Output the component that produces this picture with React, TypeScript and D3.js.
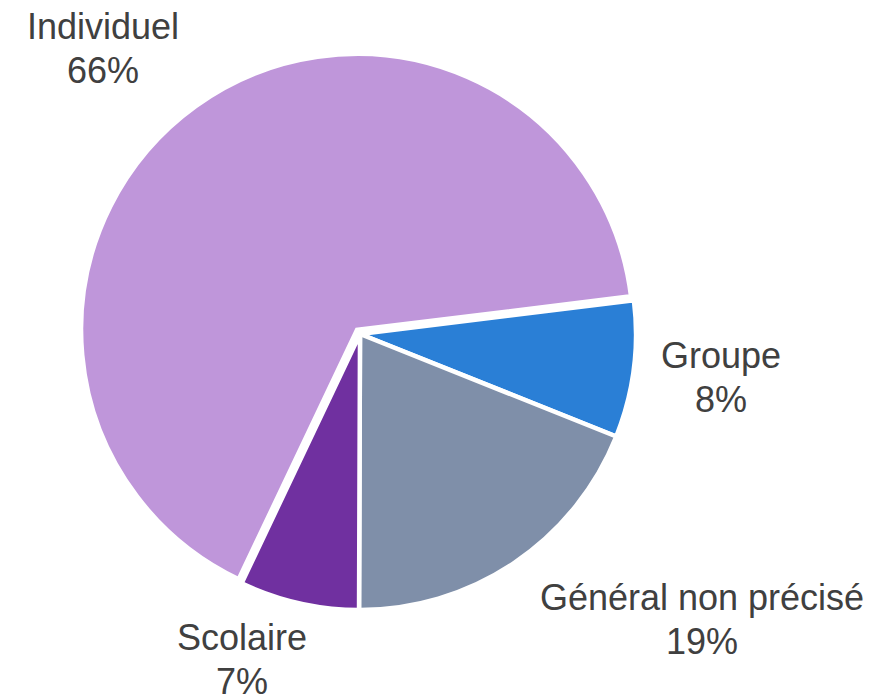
import React from "react";
import * as d3 from "d3";

const categories = ["Groupe", "Général non précisé", "Scolaire", "Individuel"];
const values = [8, 19, 7, 66];
const percentLabels = ["8%", "19%", "7%", "66%"];
const colors = ["#2A7FD6", "#7F8FA9", "#7030A0", "#BF96DA"];
const labelPos: [number, number][] = [
  [721, 368],
  [702, 610],
  [242, 650],
  [103, 39],
];

const W = 880;
const H = 697;
const cx = 360;
const cy = 334;
const R = 276;
const startDeg = 83;

export default function App() {
  const pie = d3
    .pie<number>()
    .sort(null)
    .value((d) => d)
    .startAngle((startDeg * Math.PI) / 180)
    .endAngle(((startDeg + 360) * Math.PI) / 180);
  const arcs = pie(values);
  const arcGen = d3.arc<d3.PieArcDatum<number>>().innerRadius(0).outerRadius(R);
  const offsets = [0, 0, 0, 5];

  return (
    <svg
      width={W}
      height={H}
      style={{ position: "absolute", left: 0, top: 0, background: "#fff" }}
      fontFamily="'Liberation Sans', Arial, sans-serif"
    >
      <g transform={`translate(${cx},${cy})`}>
        {arcs.map((a, i) => {
          const mid = (a.startAngle + a.endAngle) / 2;
          const dx = Math.sin(mid) * offsets[i];
          const dy = -Math.cos(mid) * offsets[i];
          return (
            <path
              key={categories[i]}
              d={arcGen(a) || ""}
              transform={`translate(${dx},${dy})`}
              fill={colors[i]}
              stroke="#fff"
              strokeWidth={4.5}
              strokeLinejoin="miter"
            />
          );
        })}
      </g>
      {categories.map((c, i) => (
        <text
          key={c}
          x={labelPos[i][0]}
          y={labelPos[i][1]}
          textAnchor="middle"
          fontSize={36}
          fill="#404040"
        >
          <tspan x={labelPos[i][0]}>{c}</tspan>
          <tspan x={labelPos[i][0]} dy={44}>
            {percentLabels[i]}
          </tspan>
        </text>
      ))}
    </svg>
  );
}
